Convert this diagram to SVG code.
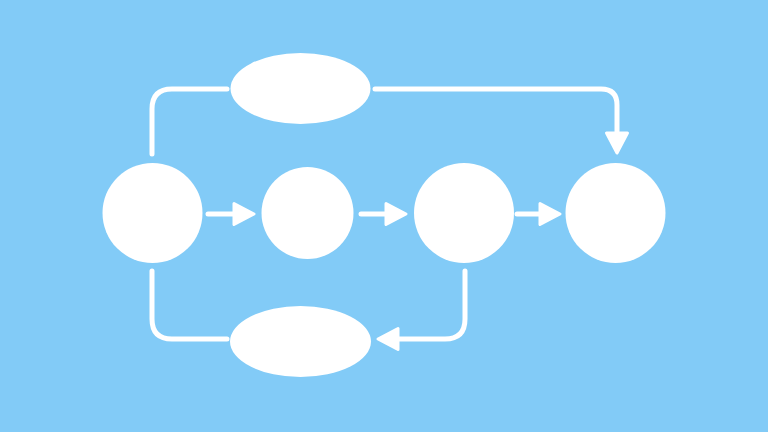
<svg xmlns="http://www.w3.org/2000/svg" width="768" height="432" viewBox="0 0 768 432">
  <defs>
    <style>
      .node { fill: #FFFFFF; }
      .conn { fill: none; stroke: #FFFFFF; stroke-width: 5; stroke-linecap: round; stroke-linejoin: round; }
    </style>
    <marker id="head" markerUnits="userSpaceOnUse" viewBox="-3 -15 28 30" markerWidth="28" markerHeight="30" refX="0" refY="0" orient="auto" overflow="visible">
      <path d="M0,-10.5 L20,0 L0,10.5 Z" fill="#FFFFFF" stroke="#FFFFFF" stroke-width="3" stroke-linejoin="round"/>
    </marker>
  </defs>
  <rect width="768" height="432" fill="#82CBF7"/>
  <g id="connectors">
    <path class="conn" d="M152,154 V109 Q152,89 172,89 H227"/>
    <path class="conn" d="M375,89 H601 Q617,89 617,105 V133" marker-end="url(#head)"/>
    <path class="conn" d="M208,214 H234" marker-end="url(#head)"/>
    <path class="conn" d="M361,214 H386" marker-end="url(#head)"/>
    <path class="conn" d="M517,214 H540" marker-end="url(#head)"/>
    <path class="conn" d="M152,271 V319 Q152,339 172,339 H227"/>
    <path class="conn" d="M465,271 V319 Q465,339 445,339 H398" marker-end="url(#head)"/>
  </g>
  <g id="node-top"><ellipse class="node" cx="300.5" cy="88.5" rx="70" ry="35.5"/></g>
  <g id="node-1"><circle class="node" cx="152.5" cy="213" r="50"/></g>
  <g id="node-2"><circle class="node" cx="307.5" cy="213" r="46"/></g>
  <g id="node-3"><circle class="node" cx="464" cy="213" r="50"/></g>
  <g id="node-4"><circle class="node" cx="615.5" cy="213" r="50"/></g>
  <g id="node-bottom"><ellipse class="node" cx="300.5" cy="341.5" rx="70.5" ry="35.5"/></g>
</svg>
